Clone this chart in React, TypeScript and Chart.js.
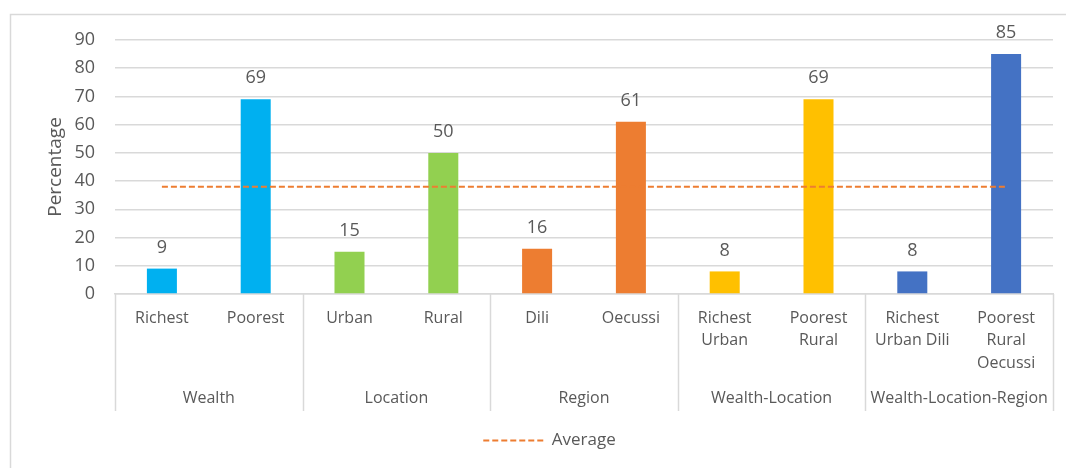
import React, { useEffect, useRef } from "react";
import { Chart, registerables } from "chart.js";

Chart.register(...registerables);

const categories: string[][] = [
  ["Richest"],
  ["Poorest"],
  ["Urban"],
  ["Rural"],
  ["Dili"],
  ["Oecussi"],
  ["Richest", "Urban"],
  ["Poorest", "Rural"],
  ["Richest", "Urban Dili"],
  ["Poorest", "Rural", "Oecussi"],
];
const groupNames = ["Wealth", "Location", "Region", "Wealth-Location", "Wealth-Location-Region"];
const groupSizes = [2, 2, 2, 2, 2];
const percentages = [9, 69, 15, 50, 16, 61, 8, 69, 8, 85];
const averageValues = [38, 38, 38, 38, 38, 38, 38, 38, 38, 38];
const barColors = [
  "#00B0F0", "#00B0F0",
  "#92D050", "#92D050",
  "#ED7D31", "#ED7D31",
  "#FFC000", "#FFC000",
  "#4472C4", "#4472C4",
];
const yMin = 0;
const yMax = 90;
const yStep = 10;

const FONT = "'Open Sans', 'DejaVu Sans', sans-serif";
const TEXT = "#595959";
const GRID = "#D9D9D9";
const AVG_DASH = [6, 3];

const decorPlugin = {
  id: "decor",
  beforeDraw(chart: any) {
    const ctx = chart.ctx;
    ctx.save();
    ctx.strokeStyle = "#D9D9D9";
    ctx.lineWidth = 1.5;
    ctx.beginPath();
    ctx.moveTo(10.5, chart.height + 2);
    ctx.lineTo(10.5, 14.5);
    ctx.lineTo(chart.width + 2, 14.5);
    ctx.stroke();
    ctx.restore();
  },
  afterDraw(chart: any) {
    const ctx = chart.ctx;
    const x = chart.scales.x;
    const area = chart.chartArea;
    const bounds: number[] = [area.left];
    let idx = 0;
    groupSizes.forEach((n, gi) => {
      idx += n;
      if (gi < groupSizes.length - 1) {
        bounds.push((x.getPixelForValue(idx - 1) + x.getPixelForValue(idx)) / 2);
      } else {
        bounds.push(area.right);
      }
    });
    ctx.save();
    ctx.strokeStyle = GRID;
    ctx.lineWidth = 1.5;
    bounds.forEach((b) => {
      const bx = Math.round(b) + 0.5;
      ctx.beginPath();
      ctx.moveTo(bx, area.bottom);
      ctx.lineTo(bx, area.bottom + 117);
      ctx.stroke();
    });
    ctx.fillStyle = TEXT;
    ctx.font = `16px ${FONT}`;
    ctx.textAlign = "center";
    ctx.textBaseline = "middle";
    groupNames.forEach((g, i) => {
      ctx.fillText(g, (bounds[i] + bounds[i + 1]) / 2, area.bottom + 104);
    });
    // data labels
    const meta = chart.getDatasetMeta(0);
    ctx.font = `18px ${FONT}`;
    meta.data.forEach((bar: any, i: number) => {
      ctx.fillText(String(percentages[i]), bar.x, bar.y - 21);
    });
    ctx.restore();
  },
};

export default function App() {
  const ref = useRef<HTMLCanvasElement | null>(null);
  useEffect(() => {
    document.body.style.margin = "0";
    const canvas = ref.current!;
    const chart = new Chart(canvas, {
      type: "bar",
      data: {
        labels: categories,
        datasets: [
          {
            type: "bar",
            label: "Percentage",
            data: percentages,
            backgroundColor: barColors,
            borderWidth: 0,
            barPercentage: 0.32,
            categoryPercentage: 1,
            order: 2,
          },
          {
            type: "line",
            label: "Average",
            data: averageValues,
            borderColor: "#ED7D31",
            backgroundColor: "#ED7D31",
            borderWidth: 2,
            borderDash: AVG_DASH,
            pointRadius: 0,
            pointStyle: "line",
            fill: false,
            order: 1,
          } as any,
        ],
      },
      options: {
        responsive: false,
        animation: false,
        layout: { padding: { left: 46, right: 13, top: 40, bottom: 9 } },
        scales: {
          x: {
            grid: { display: false, drawTicks: false },
            border: { display: true, color: GRID, width: 1.5 },
            ticks: {
              color: TEXT,
              font: { family: FONT, size: 16, lineHeight: 1.4 },
              padding: 13,
              maxRotation: 0,
              autoSkip: false,
            },
            afterFit: (s: any) => {
              s.height = 128;
            },
          },
          y: {
            min: yMin,
            max: yMax,
            grid: { color: GRID, lineWidth: 1.5, drawTicks: false },
            border: { display: false },
            ticks: {
              stepSize: yStep,
              color: TEXT,
              font: { family: FONT, size: 18 },
              padding: 20,
            },
            title: {
              display: true,
              text: "Percentage",
              color: TEXT,
              font: { family: FONT, size: 19, lineHeight: 1 },
              padding: 0,
            },
            afterFit: (s: any) => {
              s.width = 69;
            },
          },
        },
        plugins: {
          legend: {
            position: "bottom",
            labels: {
              usePointStyle: true,
              pointStyleWidth: 60,
              color: TEXT,
              font: { family: FONT, size: 17 },
              filter: (item: any) => item.datasetIndex === 1,
              generateLabels: (c: any) => {
                const items = Chart.defaults.plugins.legend.labels.generateLabels(c);
                return items.map((it: any) =>
                  it.datasetIndex === 1
                    ? { ...it, lineDash: AVG_DASH, lineWidth: 2, strokeStyle: "#ED7D31", pointStyle: "line" }
                    : it
                );
              },
            },
          },
          tooltip: { enabled: false },
        },
      },
      plugins: [decorPlugin],
    });
    return () => chart.destroy();
  }, []);
  return <canvas ref={ref} width={1066} height={468} style={{ display: "block" }} />;
}
